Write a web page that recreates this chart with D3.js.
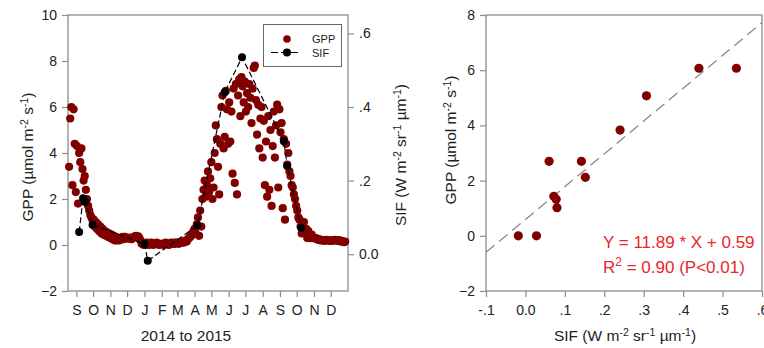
<!DOCTYPE html>
<html>
<head>
<meta charset="utf-8">
<script src="https://cdn.jsdelivr.net/npm/d3@7"></script>
<style>
  body { margin: 0; background: #fff; }
  svg { font-family: "Liberation Sans", Arial, sans-serif; }
  .tick text { fill: #222; }
  .tick line { stroke: #8c8c8c; stroke-width: 1.2; }
</style>
</head>
<body>
<div id="chart"></div>
<script>
// ---- Data ----

// Daily-ish GPP, one value every 2 days from each start date
var gppStartLate2014 = "2014-08-19";
var gppLate2014 = [3.4, 5.5, 6.0, 2.6, 5.9, 4.4, 2.3, 4.3, 1.8, 4.0, 3.6, 4.2, 3.3, 2.8, 3.0, 2.4,
  2.0, 1.7, 1.5, 1.3, 1.2, 1.1, 1.1, 0.8, 1.0, 0.7, 0.9, 0.6, 0.8, 0.5, 0.7, 0.45,
  0.6, 0.4, 0.55, 0.35, 0.5, 0.3, 0.45, 0.25, 0.4, 0.2, 0.35, 0.2, 0.3, 0.2, 0.3, 0.25,
  0.35, 0.25, 0.35, 0.3, 0.3, 0.28, 0.32, 0.3, 0.25, 0.3, 0.35, 0.38, 0.4, 0.35, 0.38, 0.3,
  0.2, 0.05, 0.1, 0.0];

var gppStartWinter2015 = "2015-01-01";
var gppWinter2015 = [0.05, 0.0, 0.1, 0.05, 0.0, 0.05, 0.1, 0.05, 0.0, 0.05, 0.05, 0.1, 0.05, 0.0, 0.05, 0.05,
  0.05, 0.0, 0.05, 0.1, 0.05, 0.05, 0.0, 0.05, 0.1, 0.05, 0.05, 0.1, 0.05, 0.1,
  0.1, 0.05, 0.1, 0.1, 0.15, 0.1, 0.15, 0.2, 0.15, 0.25, 0.3, 0.35, 0.4, 0.5, 0.6];

var gppStartGrowing2015 = "2015-04-01";
var gppGrowing2015 = [0.7, 0.5, 0.9, 1.2, 0.4, 1.5, 0.8, 2.0, 2.4, 2.8, 2.1, 2.6, 3.2, 2.3, 2.9,
  3.6, 2.0, 2.5, 4.0, 5.2, 4.6, 3.4, 2.2, 4.4, 6.0, 6.5, 4.2, 4.7, 6.7, 5.9, 4.4,
  6.2, 4.5, 5.8, 3.1, 6.8, 2.7, 7.0, 2.2, 6.5, 7.2, 5.6, 7.3, 6.9, 6.2, 7.1,
  5.8, 6.6, 6.0, 7.0, 6.4, 5.3, 6.8, 7.7, 7.8, 6.3, 4.8, 6.1, 4.2, 5.5, 6.0,
  3.8, 5.4, 2.6, 4.5, 2.1, 5.6, 2.4, 5.0, 1.7, 4.3, 5.8, 3.8, 5.2, 6.1, 2.5, 5.9];

var gppStartAutumn2015 = "2015-09-02";
var gppAutumn2015 = [4.9, 5.3, 1.6, 4.6, 1.1, 4.4, 3.5, 4.0, 3.2, 3.0, 2.6, 2.5, 2.2, 2.0, 1.7,
  1.5, 1.2, 1.1, 0.8, 0.5, 0.9, 1.0, 0.5, 0.7, 0.3, 0.6, 0.4, 0.3, 0.45, 0.3,
  0.3, 0.28, 0.3, 0.25, 0.22, 0.25, 0.2, 0.22, 0.2, 0.18, 0.2, 0.22, 0.2, 0.2, 0.18,
  0.2, 0.18, 0.2, 0.2, 0.22, 0.2, 0.18, 0.2, 0.2, 0.15, 0.18, 0.15, 0.12, 0.15];

// SIF observations and the GPP paired with each one
var sifDates = ["2014-09-06", "2014-09-13", "2014-09-17", "2014-09-30", "2015-01-01", "2015-01-07",
  "2015-04-06", "2015-05-25", "2015-06-25", "2015-09-08", "2015-09-14", "2015-10-09"];
var sifValues = [0.06, 0.152, 0.142, 0.08, 0.028, -0.018, 0.078, 0.44, 0.535, 0.307, 0.24, 0.072];
var gppAtSif = [2.7, 2.12, 2.7, 1.02, 0, 0, 1.32, 6.07, 6.07, 5.07, 3.83, 1.43];

// Fit shown on the scatter
var fitSlope = 11.89;
var fitIntercept = 0.59;

// Tick labels
var monthLabels = ["S", "O", "N", "D", "J", "F", "M", "A", "M", "J", "J", "A", "S", "O", "N", "D"];
var gppTicks = [-2, 0, 2, 4, 6, 8, 10];
var sifTicks = [0, 0.2, 0.4, 0.6];
var sifTickLabels = ["0.0", ".2", ".4", ".6"];
var scatterGppTicks = [-2, 0, 2, 4, 6, 8];
var scatterSifTicks = [-0.1, 0, 0.1, 0.2, 0.3, 0.4, 0.5, 0.6];
var scatterSifTickLabels = ["-.1", "0.0", ".1", ".2", ".3", ".4", ".5", ".6"];

// ---- Helpers ----
var parseDate = d3.utcParse("%Y-%m-%d");

function every2Days(start, values) {
    var t0 = parseDate(start);
    return values.map((v, i) => ({date: d3.utcDay.offset(t0, 2 * i), gpp: v}));
}

var gppData = [].concat(
    every2Days(gppStartLate2014, gppLate2014),
    every2Days(gppStartWinter2015, gppWinter2015),
    every2Days(gppStartGrowing2015, gppGrowing2015),
    every2Days(gppStartAutumn2015, gppAutumn2015));

var sifData = sifDates.map((d, i) => ({date: parseDate(d), sif: sifValues[i], gpp: gppAtSif[i]}));

var darkRed = "#800000";
var frameColor = "#8c8c8c";

function unitsLabel(g, parts) {
    // parts: [text, superscript, text, superscript, ...]
    parts.forEach((p, i) => {
        if (p === "") return;
        var sup = i % 2 === 1;
        g.append("tspan")
            .attr("font-size", sup ? "0.68em" : null)
            .attr("dy", sup ? "-0.45em" : (i > 0 && parts[i - 1] !== "" ? "0.3em" : null))
            .text(p);
    });
}

// Adds the svg canvas
var svg = d3.select("#chart")
    .append("svg")
    .attr("width", 764)
    .attr("height", 348);

// ================= Left panel: time series =================
var L = {left: 68, right: 348, top: 15, bottom: 291};

var x = d3.scaleUtc()
    .domain([parseDate("2014-08-17"), parseDate("2016-01-01")])
    .range([L.left, L.right]);
var yGpp = d3.scaleLinear().domain([-2, 10]).range([L.bottom, L.top]);
var ySif = d3.scaleLinear().domain([-0.1, 0.65]).range([L.bottom, L.top]);

var monthTicks = d3.utcMonth.range(parseDate("2014-09-01"), parseDate("2016-01-01"));

svg.append("g")
    .attr("transform", "translate(0," + L.bottom + ")")
    .call(d3.axisBottom(x).tickValues(monthTicks)
        .tickFormat((d, i) => monthLabels[i]).tickSize(6).tickPadding(8))
    .call(g => g.select(".domain").remove())
    .call(g => g.selectAll("text").attr("font-family", null).attr("font-size", 14));

svg.append("g")
    .attr("transform", "translate(" + L.left + ",0)")
    .call(d3.axisLeft(yGpp).tickValues(gppTicks).tickSize(6).tickPadding(5))
    .call(g => g.select(".domain").remove())
    .call(g => g.selectAll("text").attr("font-family", null).attr("font-size", 14));

svg.append("g")
    .attr("transform", "translate(" + L.right + ",0)")
    .call(d3.axisRight(ySif).tickValues(sifTicks)
        .tickFormat((d, i) => sifTickLabels[i]).tickSize(6).tickPadding(5))
    .call(g => g.select(".domain").remove())
    .call(g => g.selectAll("text").attr("font-family", null).attr("font-size", 14));

svg.append("rect")
    .attr("x", L.left).attr("y", L.top)
    .attr("width", L.right - L.left).attr("height", L.bottom - L.top)
    .attr("fill", "none").attr("stroke", frameColor).attr("stroke-width", 1.3);

// GPP dots
svg.append("g")
    .selectAll("circle")
    .data(gppData)
    .join("circle")
    .attr("cx", d => x(d.date))
    .attr("cy", d => yGpp(d.gpp))
    .attr("r", 4.1)
    .attr("fill", darkRed);

// SIF dashed line + dots
var sifLine = d3.line()
    .x(d => x(d.date))
    .y(d => ySif(d.sif));

svg.append("path")
    .datum(sifData)
    .attr("d", sifLine)
    .attr("fill", "none")
    .attr("stroke", "#000")
    .attr("stroke-width", 1.2)
    .attr("stroke-dasharray", "6,3");

svg.append("g")
    .selectAll("circle")
    .data(sifData)
    .join("circle")
    .attr("cx", d => x(d.date))
    .attr("cy", d => ySif(d.sif))
    .attr("r", 4)
    .attr("fill", "#000");

// Legend
var legend = svg.append("g");
legend.append("rect")
    .attr("x", 263.5).attr("y", 24.5).attr("width", 78).attr("height", 42)
    .attr("fill", "#fff").attr("stroke", "#666").attr("stroke-width", 1);
legend.append("circle").attr("cx", 287).attr("cy", 39).attr("r", 3.8).attr("fill", darkRed);
legend.append("line").attr("x1", 271).attr("x2", 301).attr("y1", 52.5).attr("y2", 52.5)
    .attr("stroke", "#000").attr("stroke-width", 1.2).attr("stroke-dasharray", "7,3");
legend.append("circle").attr("cx", 287).attr("cy", 52.5).attr("r", 4).attr("fill", "#000");
legend.append("text").attr("x", 312).attr("y", 43).attr("font-size", 11).attr("fill", "#222").text("GPP");
legend.append("text").attr("x", 312).attr("y", 56.5).attr("font-size", 11).attr("fill", "#222").text("SIF");

// Axis titles
svg.append("text")
    .attr("x", 186).attr("y", 341)
    .attr("text-anchor", "middle").attr("font-size", 15.5).attr("fill", "#222")
    .text("2014 to 2015");

svg.append("text")
    .attr("transform", "translate(33,157) rotate(-90)")
    .attr("text-anchor", "middle").attr("font-size", 15.5).attr("fill", "#222")
    .call(unitsLabel, ["GPP (\u00b5mol m", "-2", " s", "-1", ")"]);

svg.append("text")
    .attr("transform", "translate(406,155) rotate(-90)")
    .attr("text-anchor", "middle").attr("font-size", 15.5).attr("fill", "#222")
    .call(unitsLabel, ["SIF (W m", "-2", " sr", "-1", " \u00b5m", "-1", ")"]);

// ================= Right panel: scatter =================
var R = {left: 486, right: 762, top: 15, bottom: 291};

var x2 = d3.scaleLinear().domain([-0.1, 0.6]).range([R.left, R.right]);
var y2 = d3.scaleLinear().domain([-2, 8]).range([R.bottom, R.top]);

svg.append("g")
    .attr("transform", "translate(0," + R.bottom + ")")
    .call(d3.axisBottom(x2).tickValues(scatterSifTicks)
        .tickFormat((d, i) => scatterSifTickLabels[i]).tickSize(6).tickPadding(8))
    .call(g => g.select(".domain").remove())
    .call(g => g.selectAll("text").attr("font-family", null).attr("font-size", 14));

svg.append("g")
    .attr("transform", "translate(" + R.left + ",0)")
    .call(d3.axisLeft(y2).tickValues(scatterGppTicks).tickSize(6).tickPadding(5))
    .call(g => g.select(".domain").remove())
    .call(g => g.selectAll("text").attr("font-family", null).attr("font-size", 14));

svg.append("rect")
    .attr("x", R.left).attr("y", R.top)
    .attr("width", R.right - R.left).attr("height", R.bottom - R.top)
    .attr("fill", "none").attr("stroke", frameColor).attr("stroke-width", 1.3);

// Regression line across the x range
var fitX = x2.domain();
svg.append("line")
    .attr("x1", x2(fitX[0])).attr("y1", y2(fitSlope * fitX[0] + fitIntercept))
    .attr("x2", x2(fitX[1])).attr("y2", y2(fitSlope * fitX[1] + fitIntercept))
    .attr("stroke", "#8c8c8c").attr("stroke-width", 1.4)
    .attr("stroke-dasharray", "11,6");

svg.append("g")
    .selectAll("circle")
    .data(sifData)
    .join("circle")
    .attr("cx", d => x2(d.sif))
    .attr("cy", d => y2(d.gpp))
    .attr("r", 4.6)
    .attr("fill", darkRed);

// Fit text
var red = "#e8262b";
svg.append("text")
    .attr("x", 603).attr("y", 248)
    .attr("font-size", 17).attr("fill", red)
    .text("Y = " + fitSlope.toFixed(2) + " * X + " + fitIntercept.toFixed(2));

var r2 = svg.append("text")
    .attr("x", 603).attr("y", 273)
    .attr("font-size", 17).attr("fill", red);
r2.append("tspan").text("R");
r2.append("tspan").attr("font-size", 12).attr("dy", -7).text("2");
r2.append("tspan").attr("dy", 7).text(" = 0.90 (P<0.01)");

// Axis titles
svg.append("text")
    .attr("x", 625).attr("y", 341)
    .attr("text-anchor", "middle").attr("font-size", 15.5).attr("fill", "#222")
    .call(unitsLabel, ["SIF (W m", "-2", " sr", "-1", " \u00b5m", "-1", ")"]);

svg.append("text")
    .attr("transform", "translate(456,140) rotate(-90)")
    .attr("text-anchor", "middle").attr("font-size", 15.5).attr("fill", "#222")
    .call(unitsLabel, ["GPP (\u00b5mol m", "-2", " s", "-1", ")"]);
</script>
</body>
</html>
